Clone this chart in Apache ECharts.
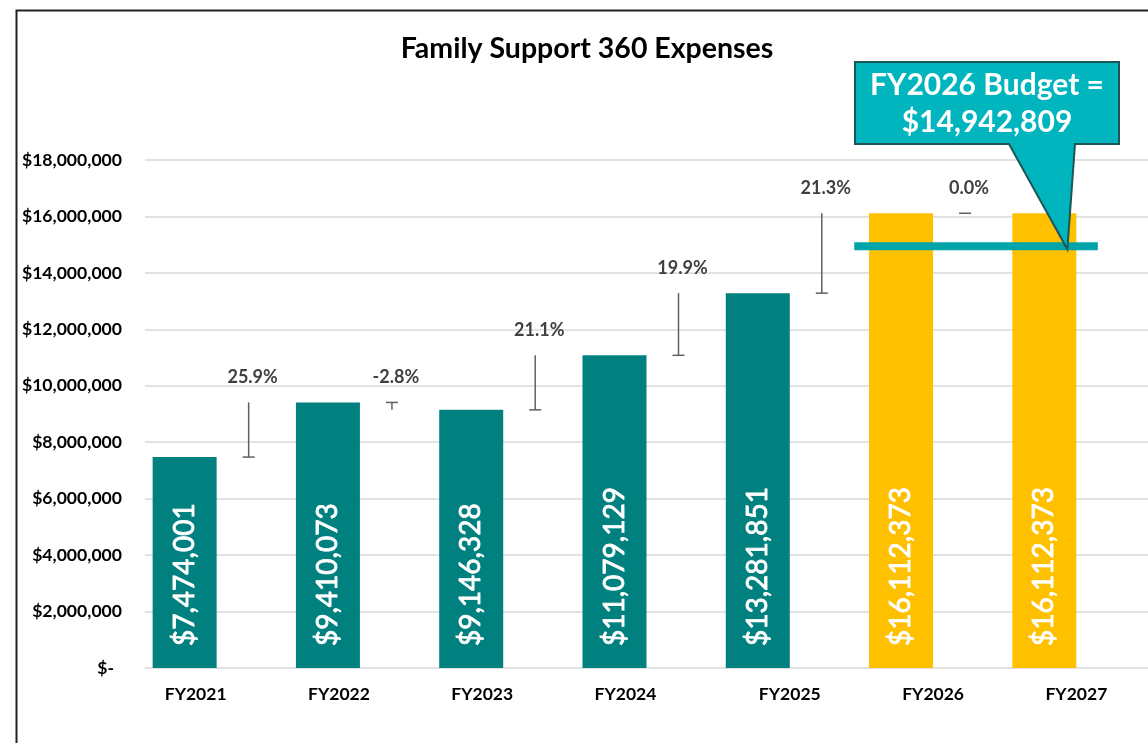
<!DOCTYPE html>
<html>
<head>
<meta charset="utf-8">
<script src="https://cdn.jsdelivr.net/npm/echarts@6/dist/echarts.min.js"></script>
<style>
  html, body { margin: 0; padding: 0; background: #fff; }
  #main { width: 1148px; height: 743px; }
</style>
</head>
<body>
<div id="main"></div>
<script>
// data
var years = ['FY2021', 'FY2022', 'FY2023', 'FY2024', 'FY2025', 'FY2026', 'FY2027'];
var expenses = [7474001, 9410073, 9146328, 11079129, 13281851, 16112373, 16112373];
var changePct = [25.9, -2.8, 21.1, 19.9, 21.3, 0.0];
var budgetFY2026 = 14942809;
var projectedFrom = 'FY2026';
var yTicks = { min: 0, max: 18000000, interval: 2000000 };

var TEAL = '#00807f', GOLD = '#ffc000';
var BAR_W = 64;
var FONT = 'Lato, "Open Sans", sans-serif';

function money(v) {
  return '$' + v.toLocaleString('en-US');
}

var projIdx = years.indexOf(projectedFrom);

// change markers: from one year's value to the next
var changeData = changePct.map(function (p, i) {
  return [i, expenses[i], expenses[i + 1], p];
});

var myChart = echarts.init(document.getElementById('main'));

var option = {
  backgroundColor: '#fff',
  animation: false,
  title: {
    text: 'Family Support 360 Expenses',
    left: 582, top: 29, textAlign: 'center',
    textStyle: { fontFamily: FONT, fontWeight: 'bold', fontSize: 28.5, color: '#000' }
  },
  grid: { left: 145, top: 160, width: 1004.5, bottom: 75 },
  xAxis: {
    type: 'category',
    data: years,
    axisLine: { show: false },
    axisTick: { show: false },
    axisLabel: {
      margin: 17,
      fontFamily: FONT, fontWeight: 'bold', fontSize: 17.5, color: '#000',
      formatter: function (v, i) { return i < 4 ? '{s|' + v + '}' : v; },
      rich: { s: { padding: [0, 42, 0, 0], fontFamily: FONT, fontWeight: 'bold', fontSize: 17.5, color: '#000' } }
    }
  },
  yAxis: {
    type: 'value',
    min: yTicks.min, max: yTicks.max, interval: yTicks.interval,
    axisLine: { show: false },
    axisTick: { show: false },
    splitLine: { lineStyle: { color: '#d9d9d9', width: 1.5 } },
    axisLabel: {
      margin: 23,
      fontFamily: FONT, fontWeight: 'bold', fontSize: 17.6, color: '#000',
      formatter: function (v) { return v === 0 ? '{z|$-}' : money(v); },
      rich: { z: { padding: [0, 8, 0, 0], fontFamily: FONT, fontWeight: 'bold', fontSize: 17.6, color: '#000' } }
    }
  },
  series: [
    {
      name: 'Expenses',
      type: 'bar',
      barWidth: BAR_W,
      barGap: '0%',
      data: expenses.map(function (v, i) {
        return { value: v, itemStyle: { color: i >= projIdx ? GOLD : TEAL } };
      }),
      label: {
        show: true,
        position: 'insideBottom',
        distance: 22,
        rotate: 90,
        align: 'left',
        verticalAlign: 'middle',
        fontFamily: FONT, fontSize: 28, color: '#fff',
        textBorderColor: '#fff', textBorderWidth: 0.8,
        formatter: function (p) { return money(p.value); }
      },
      z: 2
    },
    {
      // empty slot beside each bar where the change marker sits
      name: 'slot',
      type: 'bar',
      barWidth: BAR_W,
      silent: true,
      data: years.map(function () { return 0; }),
      itemStyle: { color: 'rgba(0,0,0,0)' }
    },
    {
      name: 'Change',
      type: 'custom',
      data: changeData,
      z: 3,
      renderItem: function (params, api) {
        var a = api.coord([api.value(0), api.value(1)]);
        var b = api.coord([api.value(0), api.value(2)]);
        var x = a[0] + BAR_W / 2;
        var top = Math.min(a[1], b[1]);
        var pct = api.value(3);
        return {
          type: 'group',
          children: [
            { type: 'line', shape: { x1: x, y1: a[1], x2: x, y2: b[1] },
              style: { stroke: '#606060', lineWidth: 1.5 } },
            { type: 'line', shape: { x1: x - 6, y1: a[1], x2: x + 6, y2: a[1] },
              style: { stroke: '#606060', lineWidth: 1.5 } },
            { type: 'text', x: x + 4, y: top - 25,
              style: { text: pct.toFixed(1) + '%', align: 'center', verticalAlign: 'middle',
                fontFamily: FONT, fontWeight: 'bold', fontSize: 18, fill: '#404040' } }
          ]
        };
      }
    },
    {
      name: 'Budget',
      type: 'custom',
      data: [[projIdx, budgetFY2026]],
      z: 4,
      renderItem: function (params, api) {
        var band = api.size([1, 0])[0];
        var p0 = api.coord([api.value(0), api.value(1)]);
        var p1 = api.coord([api.value(0) + 1, api.value(1)]);
        return {
          type: 'line',
          shape: { x1: p0[0] - 0.55 * band, y1: p0[1], x2: p1[0] + 0.15 * band, y2: p1[1] },
          style: { stroke: '#00a4a9', lineWidth: 8 }
        };
      }
    }
  ]
};
myChart.setOption(option);

// callout pointing at the budget line, plus chart frame
var tip = myChart.convertToPixel({ xAxisIndex: 0, yAxisIndex: 0 }, [projIdx + 1, budgetFY2026]);
tip = [tip[0] - 9, tip[1] + 3];
var bx = 855, by = 62, bw = 264, bh = 82;
myChart.setOption({
  graphic: [
    {
      type: 'rect', left: 14, top: 8, silent: true,
      shape: { width: 1300, height: 900 },
      style: { fill: 'none', stroke: '#222', lineWidth: 2 }
    },
    {
      type: 'polygon', z: 10, silent: true,
      shape: { points: [
        [bx, by], [bx + bw, by], [bx + bw, by + bh], [1075, by + bh],
        tip, [1009, by + bh], [bx, by + bh]
      ] },
      style: { fill: '#00b5bd', stroke: '#1d5656', lineWidth: 2 }
    },
    {
      type: 'text', z: 11, silent: true,
      x: bx + bw / 2, y: by + bh / 2 + 1,
      style: {
        text: projectedFrom + ' Budget =\n' + money(budgetFY2026),
        align: 'center', verticalAlign: 'middle', lineHeight: 37,
        fontFamily: FONT, fontWeight: 'bold', fontSize: 30, fill: '#fff'
      }
    }
  ]
});
</script>
</body>
</html>
